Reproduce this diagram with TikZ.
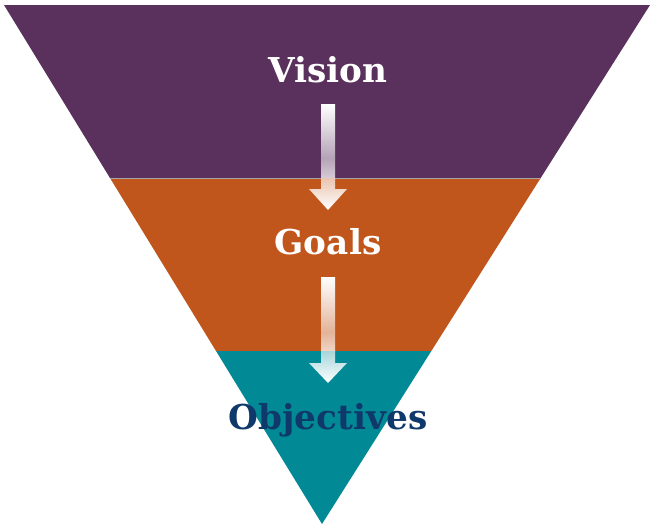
\documentclass[tikz,border=0pt]{standalone}
\usepackage{fontspec}
\newfontfamily\slabfont{DejaVu Serif}
\definecolor{visionpurple}{HTML}{5A315D}
\definecolor{goalorange}{HTML}{C1561C}
\definecolor{objteal}{HTML}{018A96}
\definecolor{objnavy}{HTML}{10396B}
\newcommand*{\midx }{328}
\newcommand*{\shaft}{7}
\newcommand*{\head }{19}
% #1 shaft top, #2 faintest point, #3 band edge, #4 head top, #5 tip, #6 upper band, #7 lower band
\newcommand*{\flowarrow}[7]{%
  \begin{scope}
    \clip (\midx-\shaft,#1) -- (\midx+\shaft,#1) -- (\midx+\shaft,#4) -- (\midx+\head,#4) -- (\midx,#5) -- (\midx-\head,#4) -- (\midx-\shaft,#4) -- cycle;
    \shade [top color=white, bottom color=#6!45!white] (\midx-\head,#1) rectangle (\midx+\head,#2);
    \shade [top color=#6!45!white, bottom color=#6!25!white] (\midx-\head,#2) rectangle (\midx+\head,#3);
    \shade [top color=#7!35!white, bottom color=white] (\midx-\head,#3) rectangle (\midx+\head,#5);
  \end{scope}}

\begin{document}
\begin{tikzpicture}[x=0.02cm, y=-0.02cm, font=\slabfont\bfseries\fontsize{19.5}{22}\selectfont]
    \useasboundingbox (0,0) rectangle (650,525);
    \begin{scope}
        \clip (4,5) -- (650,5) -- (322,524) -- cycle;
        \fill [visionpurple] (0,0) rectangle (650,178);
        \fill [goalorange] (0,178) rectangle (650,351);
        \fill [objteal] (0,351) rectangle (650,525);
        \draw [gray!70, line width=0.3pt] (0,178) -- (650,178);
    \end{scope}
    \flowarrow{104}{158}{178}{189}{210}{visionpurple}{goalorange}
    \flowarrow{277}{332}{351}{363}{383}{goalorange}{objteal}
    \node (vision) [anchor=base, text=white] at (\midx,82) {Vision};
    \node (goals) [anchor=base, text=white] at (\midx,254) {Goals};
    \node (objectives) [anchor=base, text=objnavy] at (\midx,429) {Objectives};
\end{tikzpicture}
\end{document}
